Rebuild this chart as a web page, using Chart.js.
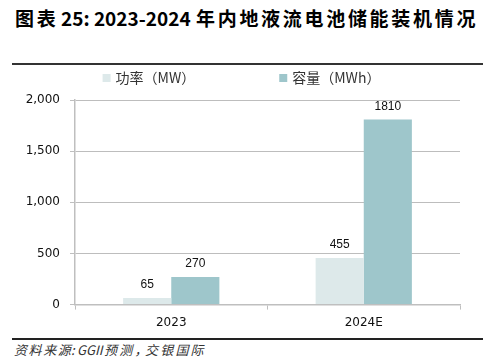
<!DOCTYPE html>
<html><head><meta charset="utf-8">
<script src="https://cdn.jsdelivr.net/npm/chart.js@4.4.1/dist/chart.umd.min.js"></script>
<style>
html,body{margin:0;padding:0;background:#fff;}
#wrap{position:relative;width:495px;height:361px;overflow:hidden;}
.t{position:absolute;top:5px;font-family:"Noto Sans CJK SC",sans-serif;font-weight:bold;font-size:19px;color:#000;white-space:nowrap;line-height:26px;}
.cj{letter-spacing:2.7px;}
#topline{position:absolute;left:12px;top:63px;width:471px;height:2px;background:#333;}
#botline{position:absolute;left:12px;top:338px;width:471px;height:1.5px;background:#222;}
.s{position:absolute;top:341px;font-family:"Noto Sans CJK SC",sans-serif;font-style:italic;font-size:13px;color:#333;white-space:nowrap;line-height:18px;}
.scj{letter-spacing:2.2px;}
#cv{position:absolute;left:0;top:66px;}
</style></head>
<body><div id="wrap">
<span class="t cj" style="left:15px">图表</span>
<span class="t" style="left:61px">25: 2023-2024</span>
<span class="t cj" style="left:196px">年内地液流电池储能装机情况</span>
<div id="topline"></div>
<canvas id="cv" width="495" height="270"></canvas>
<div id="botline"></div>
<span class="s" style="left:14px;letter-spacing:1.6px">资料来源</span>
<span class="s" style="left:71px">:</span>
<span class="s" style="left:77px">GGII</span>
<span class="s scj" style="left:104px">预测，</span>
<span class="s scj" style="left:145px">交银国际</span>
</div>
<script>
const categories = ["2023", "2024E"];
const powerMW = [65, 455];
const capacityMWh = [270, 1810];
const seriesNames = ["功率（MW）", "容量（MWh）"];
const yTicks = [0, 500, 1000, 1500, 2000];
const seriesColors = ['#dde9ea', '#9ec6cb'];

const labelPlugin = {
  id: 'valLabels',
  afterDatasetsDraw(chart) {
    const ctx = chart.ctx;
    ctx.save();
    ctx.font = '12px "Liberation Sans", sans-serif';
    ctx.fillStyle = '#111';
    ctx.textAlign = 'center';
    ctx.textBaseline = 'bottom';
    chart.data.datasets.forEach((ds, i) => {
      const meta = chart.getDatasetMeta(i);
      meta.data.forEach((bar, j) => {
        ctx.fillText(String(ds.data[j]), bar.x, bar.y - 7);
      });
    });
    ctx.restore();
  }
};

const legendPlugin = {
  id: 'customLegend',
  afterDraw(chart) {
    const ctx = chart.ctx;
    ctx.save();
    ctx.font = '14px "Noto Sans CJK SC", sans-serif';
    ctx.textBaseline = 'middle';
    ctx.textAlign = 'left';
    const box = 8, textGap = 5, itemGap = 84, yMid = 12;
    const items = chart.data.datasets.map(d => ({ text: d.label, color: d.backgroundColor, w: ctx.measureText(d.label).width }));
    let total = 0;
    items.forEach((it, i) => { total += box + textGap + it.w + (i < items.length - 1 ? itemGap : 0); });
    let x = chart.width / 2 - 6 - total / 2;
    items.forEach(it => {
      ctx.fillStyle = it.color;
      ctx.fillRect(x, yMid - box / 2, box, box);
      ctx.fillStyle = '#333';
      ctx.fillText(it.text, x + box + textGap, yMid);
      x += box + textGap + it.w + itemGap;
    });
    ctx.restore();
  }
};

new Chart(document.getElementById('cv'), {
  type: 'bar',
  data: {
    labels: categories,
    datasets: [
      { label: seriesNames[0], data: powerMW, backgroundColor: seriesColors[0], categoryPercentage: 0.5, barPercentage: 1.0 },
      { label: seriesNames[1], data: capacityMWh, backgroundColor: seriesColors[1], categoryPercentage: 0.5, barPercentage: 1.0 }
    ]
  },
  options: {
    responsive: false,
    animation: false,
    devicePixelRatio: 1,
    layout: { padding: { left: 0, right: 35, top: 34, bottom: 0 } },
    plugins: {
      tooltip: { enabled: false },
      legend: { display: false }
    },
    scales: {
      x: {
        grid: { display: true, drawOnChartArea: false, drawTicks: true, tickLength: 5, color: '#bfbfbf', offset: true },
        border: { display: true, color: '#bfbfbf', width: 1.5 },
        ticks: { font: { family: '"DejaVu Sans", sans-serif', size: 12 }, color: '#111', padding: 6 }
      },
      y: {
        min: 0, max: 2000,
        afterBuildTicks(scale) { scale.ticks = yTicks.map(v => ({ value: v })); },
        afterFit(scale) { scale.width = 75; },
        grid: { color: '#bdbdbd', borderDash: [2, 2], tickBorderDash: [], tickColor: '#bfbfbf', tickLength: 5, lineWidth: 1 },
        border: { display: true, color: '#bfbfbf', width: 1.5 },
        ticks: {
          font: { family: '"DejaVu Sans", sans-serif', size: 12 }, color: '#111', padding: 10,
          callback: v => v.toLocaleString('en-US')
        }
      }
    }
  },
  plugins: [labelPlugin, legendPlugin]
});
</script>
</body></html>
